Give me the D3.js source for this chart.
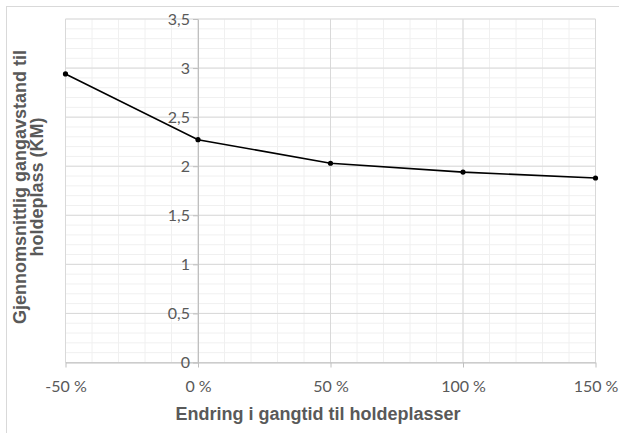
<!DOCTYPE html>
<html>
<head>
<meta charset="utf-8">
<script src="https://cdn.jsdelivr.net/npm/d3@7"></script>
<style>
  html, body { margin: 0; padding: 0; background: #fff; }
  svg { display: block; }
  text { font-family: "Liberation Sans", Arial, sans-serif; }
  .tick text { font-family: Lato, "Liberation Sans", sans-serif; }
</style>
</head>
<body>
<svg id="chart" width="619" height="433"></svg>
<script>
// Walking-time change (%) and resulting average walking distance to stop (km)
const changePct = [-50, 0, 50, 100, 150];
const distanceKm = [2.94, 2.27, 2.03, 1.94, 1.88];
const xTickValues = [-50, 0, 50, 100, 150];
const yTickValues = [0, 0.5, 1, 1.5, 2, 2.5, 3, 3.5];
const xTitle = "Endring i gangtid til holdeplasser";
const yTitleLines = ["Gjennomsnittlig gangavstand til", "holdeplass (KM)"];

const svg = d3.select("#chart");
const W = 619, H = 433;
const plot = { left: 65.5, right: 595.5, top: 19, bottom: 362.5 };

// outer chart frame
svg.append("rect")
  .attr("x", 6.5).attr("y", 6.5)
  .attr("width", W).attr("height", H)
  .attr("fill", "#fff").attr("stroke", "#d9d9d9").attr("stroke-width", 1);

const x = d3.scaleLinear().domain([-50, 150]).range([plot.left, plot.right]);
const y = d3.scaleLinear().domain([0, 3.5]).range([plot.bottom, plot.top]);

const grid = svg.append("g");
// minor gridlines
grid.selectAll(".vminor").data(d3.range(-50, 151, 10))
  .enter().append("line")
  .attr("x1", d => x(d)).attr("x2", d => x(d))
  .attr("y1", plot.top).attr("y2", plot.bottom)
  .attr("stroke", "#f0f0f0").attr("stroke-width", 1);
grid.selectAll(".hminor").data(d3.range(0, 36).map(i => i / 10))
  .enter().append("line")
  .attr("x1", plot.left).attr("x2", plot.right)
  .attr("y1", d => y(d)).attr("y2", d => y(d))
  .attr("stroke", "#f0f0f0").attr("stroke-width", 1);
// major gridlines
grid.selectAll(".vmajor").data(xTickValues)
  .enter().append("line")
  .attr("x1", d => x(d)).attr("x2", d => x(d))
  .attr("y1", plot.top).attr("y2", plot.bottom)
  .attr("stroke", "#d9d9d9").attr("stroke-width", 1);
grid.selectAll(".hmajor").data(yTickValues)
  .enter().append("line")
  .attr("x1", plot.left).attr("x2", plot.right)
  .attr("y1", d => y(d)).attr("y2", d => y(d))
  .attr("stroke", "#d9d9d9").attr("stroke-width", 1);

const fmtX = d => d + " %";
const fmtY = d => String(d).replace(".", ",");

// x axis along the bottom
const xAxis = svg.append("g")
  .attr("transform", `translate(0,${plot.bottom})`)
  .call(d3.axisBottom(x).tickValues(xTickValues).tickFormat(fmtX).tickSize(5).tickSizeOuter(0));
xAxis.attr("font-size", null).attr("font-family", null);
xAxis.select(".domain").attr("stroke", "#bfbfbf");
xAxis.selectAll(".tick line").attr("stroke", "#bfbfbf");
xAxis.selectAll(".tick text")
  .style("font-size", "16px").attr("fill", "#595959").attr("y", 0).attr("dy", null)
  .attr("transform", "translate(0,29.5)");

// y axis crossing at 0 %
const yAxis = svg.append("g")
  .attr("transform", `translate(${x(0)},0)`)
  .call(d3.axisLeft(y).tickValues(yTickValues).tickFormat(fmtY).tickSize(5).tickSizeOuter(0));
yAxis.attr("font-size", null).attr("font-family", null);
yAxis.select(".domain").attr("stroke", "#bfbfbf");
yAxis.selectAll(".tick line").attr("stroke", "#bfbfbf");
yAxis.selectAll(".tick text")
  .style("font-size", "16px").attr("fill", "#595959").attr("x", -8);

// series
const pts = changePct.map((c, i) => [c, distanceKm[i]]);
svg.append("path")
  .datum(pts)
  .attr("fill", "none").attr("stroke", "#000").attr("stroke-width", 1.6)
  .attr("d", d3.line().x(d => x(d[0])).y(d => y(d[1])));
svg.selectAll(".pt").data(pts).enter().append("circle")
  .attr("cx", d => x(d[0])).attr("cy", d => y(d[1])).attr("r", 2.6)
  .attr("fill", "#000");

// axis titles
svg.append("text")
  .attr("x", 318).attr("y", 420)
  .attr("text-anchor", "middle")
  .style("font-weight", "bold").style("font-size", "18px").attr("fill", "#595959")
  .text(xTitle);

const yt = svg.append("text")
  .attr("transform", `translate(26,187) rotate(-90)`)
  .attr("text-anchor", "middle")
  .style("font-weight", "bold").style("font-size", "18px").attr("fill", "#595959");
yTitleLines.forEach((t, i) => {
  yt.append("tspan").attr("x", 0).attr("dy", i === 0 ? 0 : 17).text(t);
});
</script>
</body>
</html>
